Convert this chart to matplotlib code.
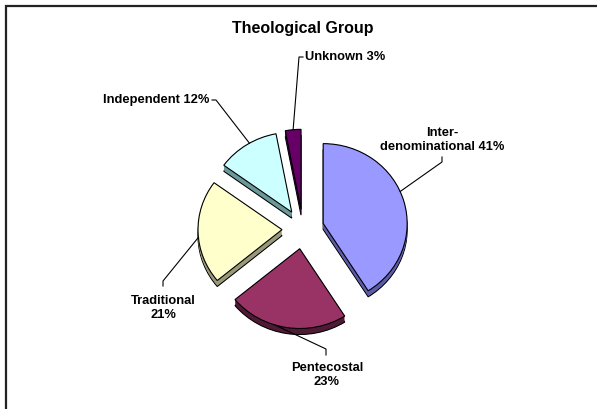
import matplotlib
matplotlib.use("Agg")
import matplotlib.pyplot as plt
import numpy as np
from matplotlib.transforms import Affine2D
from matplotlib.patches import Rectangle

plt.rcParams["font.family"] = ["Liberation Sans", "DejaVu Sans"]

groups = ["Inter-\ndenominational", "Pentecostal", "Traditional", "Independent", "Unknown"]
shares = [41, 23, 21, 12, 3]
top_colors = ["#9999FF", "#993366", "#FFFFCC", "#CCFFFF", "#660066"]
side_colors = ["#5C5CA8", "#4F1A36", "#99997A", "#6A9999", "#3A003A"]

W, H = 597, 409
fig = plt.figure(figsize=(W / 100, H / 100), dpi=100)
ax = fig.add_axes([0, 0, 1, 1])

# everything below is laid out in pixel units, y measured upwards
cx, cy = 303, H - 229
radius = 84
squash = 0.95
explode = 21
depth = 6

def tilt(y0):
    # flatten the pie vertically around its own centre
    return Affine2D().translate(-cx, -y0).scale(1, squash).translate(cx, y0) + ax.transData

# side walls: stacked copies shifted downwards
for t in np.arange(depth, -0.1, -1.0):
    yc = cy - t
    edge = "black" if t == depth else "none"
    wedges, _ = ax.pie(shares, explode=[explode] * len(shares), startangle=90,
                       counterclock=False, colors=side_colors, radius=radius,
                       center=(cx, yc), frame=True,
                       wedgeprops=dict(edgecolor=edge, linewidth=0.8))
    for w in wedges:
        w.set_transform(tilt(yc))

# top faces
wedges, _ = ax.pie(shares, explode=[explode] * len(shares), startangle=90,
                   counterclock=False, colors=top_colors, radius=radius,
                   center=(cx, cy), frame=True,
                   wedgeprops=dict(edgecolor="black", linewidth=0.8))
for w in wedges:
    w.set_transform(tilt(cy))

ax.set_xlim(0, W)
ax.set_ylim(0, H)
ax.set_aspect("auto")
ax.axis("off")

# chart area border (only top and left edges fall inside the image)
ax.add_patch(Rectangle((6, -10), W + 20, H - 6 + 10, fill=False,
                       edgecolor="#222222", linewidth=1.6))

ax.text(303, H - 29, "Theological Group", ha="center", va="center",
        fontsize=11.5, fontweight="bold")

def point_on_edge(i, frac):
    # point on the outer arc of slice i, frac in [0, 1] across the slice
    start = 90 - 3.6 * sum(shares[:i])
    a1 = start - 3.6 * shares[i]
    mid = np.deg2rad((start + a1) / 2)
    ang = np.deg2rad(start + (a1 - start) * frac)
    x = cx + explode * np.cos(mid) + radius * np.cos(ang)
    y = cy + (explode * np.sin(mid) + radius * np.sin(ang)) * squash
    return x, y

fs = 9.3
ls = 1.25
line = dict(color="black", linewidth=0.8)

# Inter-denominational
lx, ly = point_on_edge(0, 0.45)
ax.plot([442, 442, lx], [H - 157, H - 162, ly], **line)
ax.text(442, H - 140, f"{groups[0]} {shares[0]}%", ha="center", va="center",
        fontsize=fs, fontweight="bold", linespacing=ls)

# Pentecostal
lx, ly = point_on_edge(1, 0.6)
ax.plot([326, 326, lx], [H - 355, H - 349, ly], **line)
ax.text(327, H - 375, f"{groups[1]}\n{shares[1]}%", ha="center", va="center",
        fontsize=fs, fontweight="bold", linespacing=ls)

# Traditional
lx, ly = point_on_edge(2, 0.45)
ax.plot([163, 163, lx], [H - 286, H - 281, ly], **line)
ax.text(163, H - 308, f"{groups[2]}\n{shares[2]}%", ha="center", va="center",
        fontsize=fs, fontweight="bold", linespacing=ls)

# Independent
lx, ly = point_on_edge(3, 0.55)
ax.plot([212, 216, lx], [H - 100, H - 100, ly], **line)
ax.text(156, H - 100, f"{groups[3]} {shares[3]}%", ha="center", va="center",
        fontsize=fs, fontweight="bold")

# Unknown
lx, ly = point_on_edge(4, 0.5)
ax.plot([303, 299, lx], [H - 57, H - 57, ly], **line)
ax.text(345, H - 57, f"{groups[4]} {shares[4]}%", ha="center", va="center",
        fontsize=fs, fontweight="bold")

fig.savefig("out.png", dpi=100)
